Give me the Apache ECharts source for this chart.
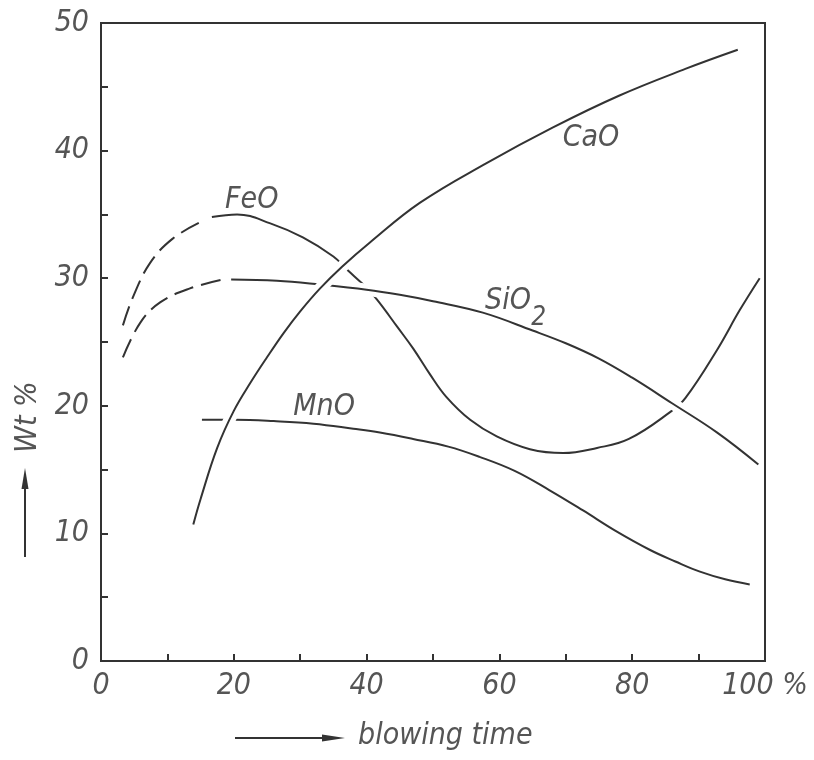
<!DOCTYPE html>
<html>
<head>
<meta charset="utf-8">
<title>Slag composition during blowing</title>
<script src="https://cdn.jsdelivr.net/npm/echarts@6/dist/echarts.min.js"></script>
<style>
  html, body { margin: 0; padding: 0; background: #fff; }
  #chart { width: 814px; height: 760px; }
</style>
</head>
<body>
<div id="chart"></div>
<script>
// slag composition (wt %) vs blowing time (%)
// [blowing time, wt %]
const feoDashed = [[3.3, 26.3], [4.8, 28.5], [7.4, 31.2], [10.8, 33.1], [15.0, 34.4]];
const feoSolid = [[16.7, 34.8], [20.5, 35.0], [25.5, 34.3], [30.4, 33.2], [35, 31.7], [37.2, 30.6], [39.5, 29.5],
  [41.6, 28.3], [44.6, 26.2], [47, 24.5], [49.5, 22.5], [52, 20.7], [55.6, 18.9], [59.6, 17.6], [64.6, 16.6],
  [69.6, 16.3], [74.7, 16.7], [79.5, 17.4], [85.7, 19.5], [88, 20.6], [92.8, 24.4], [96.2, 27.5], [99.2, 30.0]];

const sio2Dashed = [[3.3, 23.8], [5.9, 26.5], [8.9, 28.1], [13.4, 29.2], [18.4, 29.9]];
const sio2Solid = [[19.6, 29.9], [26.5, 29.8], [33, 29.5], [40, 29.1], [45, 28.7], [50, 28.2], [57.5, 27.3],
  [65, 25.9], [70, 24.9], [75, 23.7], [80, 22.2], [86, 20.2], [92.8, 17.9], [99, 15.4]];

const mnoLine = [[15.2, 18.9], [20.2, 18.9], [26, 18.8], [32, 18.6], [38, 18.2], [42, 17.9], [47, 17.4],
  [52.3, 16.8], [57, 16.0], [62.3, 14.9], [67.5, 13.4], [72.6, 11.8], [77.5, 10.2], [82.7, 8.7], [86.5, 7.8],
  [90.2, 7.0], [94, 6.4], [97.7, 6.0]];

const caoLine = [[13.9, 10.7], [15, 12.7], [17.5, 16.7], [20, 19.6], [22.5, 21.8], [25, 23.8], [27.5, 25.7],
  [30, 27.4], [33, 29.2], [36.3, 30.9], [40.5, 32.8], [48, 35.9], [58, 39.0], [68, 41.8], [78, 44.3],
  [88, 46.4], [95.9, 47.9]];

// curve names, placed at [blowing time, wt %]
const curveLabels = [['FeO', 22.7, 36.1], ['CaO', 73.8, 41.0], ['MnO', 33.6, 19.9], ['SiO', 61.3, 28.2]];
const subscriptLabels = [['2', 65.9, 26.9]];

const xTitle = 'blowing time';
const yTitle = 'Wt %';

const ink = '#333';
const textInk = '#555';
const fontFamily = '"DejaVu Sans Condensed", "DejaVu Sans", sans-serif';
const labelFont = 'italic 30px ' + fontFamily;

const chart = echarts.init(document.getElementById('chart'));

// plain curve, no symbols
const curve = (data, z, dashed) => ({
  type: 'line',
  data: data,
  smooth: 0.4,
  showSymbol: false,
  silent: true,
  z: z,
  lineStyle: { color: ink, width: 2, type: dashed ? [20, 8] : 'solid' }
});

// white band under a curve so lines passing below it get a break, like the drawing
const halo = (data, z) => ({
  type: 'line',
  data: data,
  smooth: 0.4,
  showSymbol: false,
  silent: true,
  z: z,
  lineStyle: { color: '#fff', width: 12 }
});

const axisText = {
  fontFamily: fontFamily,
  fontStyle: 'italic',
  fontSize: 30,
  color: textInk
};

const option = {
  animation: false,
  backgroundColor: '#fff',
  grid: {
    left: 101, right: 49, top: 23, bottom: 99,
    show: true,
    borderColor: ink,
    borderWidth: 2,
    backgroundColor: 'transparent'
  },
  xAxis: {
    type: 'value',
    min: 0, max: 100, interval: 10,
    axisLine: { lineStyle: { color: ink, width: 2 } },
    axisTick: { inside: true, length: 7, lineStyle: { color: ink, width: 2 } },
    axisLabel: Object.assign({
      margin: 10,
      formatter: v => (v % 20 === 0 ? (v === 100 ? '100 %' : String(v)) : '')
    }, axisText),
    splitLine: { show: false }
  },
  yAxis: {
    type: 'value',
    min: 0, max: 50, interval: 5,
    axisLine: { lineStyle: { color: ink, width: 2 } },
    axisTick: { inside: true, length: 7, lineStyle: { color: ink, width: 2 } },
    axisLabel: Object.assign({
      margin: 12,
      formatter: v => (v % 10 === 0 ? String(v) : '')
    }, axisText),
    splitLine: { show: false }
  },
  series: [
    curve(feoDashed, 2, true),
    curve(feoSolid, 2, false),
    curve(mnoLine, 2, false),
    curve(sio2Dashed, 4, true),
    halo(sio2Solid, 3),
    curve(sio2Solid, 4, false),
    halo(caoLine, 5),
    curve(caoLine, 6, false)
  ]
};

chart.setOption(option);

const toPx = p => chart.convertToPixel({ gridIndex: 0 }, p);

const nameTexts = curveLabels.map(([name, x, y]) => {
  const [px, py] = toPx([x, y]);
  return {
    type: 'text', x: px, y: py, z: 10,
    style: { text: name, font: labelFont, fill: textInk, textAlign: 'center', textVerticalAlign: 'middle' }
  };
});
const subTexts = subscriptLabels.map(([name, x, y]) => {
  const [px, py] = toPx([x, y]);
  return {
    type: 'text', x: px, y: py, z: 10,
    style: { text: name, font: 'italic 26px ' + fontFamily, fill: textInk, textAlign: 'center', textVerticalAlign: 'middle' }
  };
});

chart.setOption({
  graphic: [
    ...nameTexts,
    ...subTexts,
    // y title with arrow pointing up
    {
      type: 'text', x: 28, y: 417, rotation: Math.PI / 2,
      style: { text: yTitle, font: labelFont, fill: textInk, textAlign: 'center', textVerticalAlign: 'middle' }
    },
    { type: 'line', shape: { x1: 25, y1: 557, x2: 25, y2: 484 }, style: { stroke: ink, lineWidth: 2 } },
    { type: 'polygon', shape: { points: [[25, 468], [21.5, 489], [28.5, 489]] }, style: { fill: ink } },
    // x title with arrow pointing right
    {
      type: 'text', x: 358, y: 736,
      style: { text: xTitle, font: labelFont, fill: textInk, textAlign: 'left', textVerticalAlign: 'middle' }
    },
    { type: 'line', shape: { x1: 235, y1: 738, x2: 326, y2: 738 }, style: { stroke: ink, lineWidth: 2 } },
    { type: 'polygon', shape: { points: [[345, 738], [322, 734.5], [322, 741.5]] }, style: { fill: ink } }
  ]
});
</script>
</body>
</html>
